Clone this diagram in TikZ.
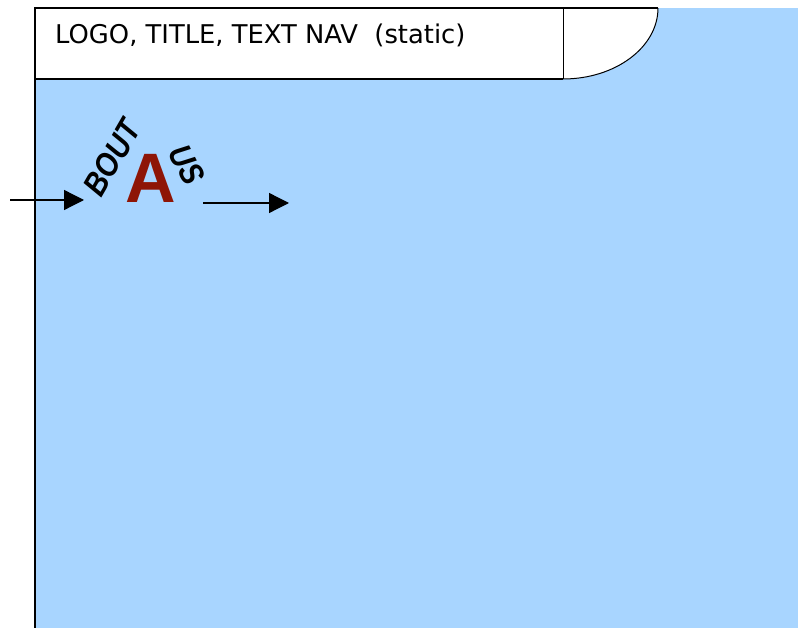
\documentclass[tikz,border=0pt]{standalone}
\usepackage{fontspec}
\setmainfont{DejaVu Sans}
\newfontfamily\hdrfont{DejaVu Sans}
\newfontfamily\wordart{Liberation Sans}[UprightFont={* Bold Italic},FakeStretch=0.86]
\newfontfamily\bigletter{Liberation Sans}[UprightFont={* Bold}]
\usetikzlibrary{arrows.meta}
\definecolor{skyfill}{HTML}{A8D5FF}
\definecolor{logored}{HTML}{8E1506}
\tikzset{
  conn/.style={line width=1.3pt,-{Triangle[length=20pt,width=20pt]}},
  border/.style={line width=1.3pt},
  arcword/.style={inner sep=0,font=\wordart\fontsize{33}{34}\selectfont},
}
\begin{document}
\begin{tikzpicture}[x=1pt,y=-1pt]
\useasboundingbox (0,0) rectangle (798,628);
% blue page
\fill[skyfill] (35,8) rectangle (798,628);
% header white area with curved end
\fill[white] (35,8) -- (658,8) arc[start angle=0,end angle=90,x radius=95,y radius=71] -- (35,79) -- cycle;
\draw[border] (35,628) -- (35,8) -- (658,8);
\draw[line width=1pt] (658,8) arc[start angle=0,end angle=90,x radius=95,y radius=71];
\draw[border] (35,79) -- (563,79);
\draw[line width=1pt] (563,8) -- (563,79);
\node[anchor=base west,inner sep=0,font=\hdrfont\fontsize{25.8}{28}\selectfont] (title) at (55,44) {LOGO, TITLE, TEXT NAV\ \ (static)};
% logo
\node[inner sep=0,text=logored,font=\bigletter\fontsize{70}{72}\selectfont] (bigA) at (151,178) {A};
\node[arcword,rotate=60] (bout) at (112,158) {BOUT};
\node[arcword,rotate=-63] (us) at (187,165) {US};
\coordinate (inL) at (10,200);
\coordinate (inR) at (84,200);
\coordinate (outL) at (203,203);
\coordinate (outR) at (289,203);
\draw[conn] (inL) -- (inR);
\draw[conn] (outL) -- (outR);
\end{tikzpicture}
\end{document}
